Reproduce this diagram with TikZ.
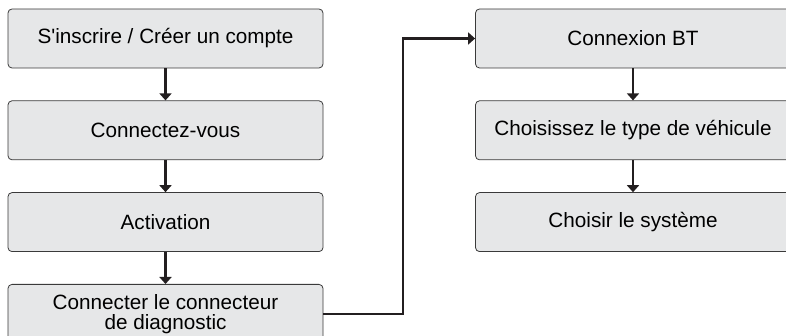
\documentclass[tikz,border=0pt]{standalone}
\usepackage{fontspec}
\setmainfont{Liberation Sans}
\usetikzlibrary{positioning,arrows.meta}

\definecolor{boxfill}{HTML}{E6E7E8}
\definecolor{boxline}{HTML}{3A3A3A}
\definecolor{linkcol}{HTML}{231F20}

\tikzset{
  stepbox/.style={rectangle, rounded corners=4pt, draw=boxline, line width=0.8pt,
    fill=boxfill, minimum width=315pt, minimum height=59pt, inner sep=0pt,
    align=center, font=\fontsize{20.7}{20.5}\selectfont},
  link/.style={draw=linkcol, line width=2.6pt,
    -{Triangle[width=12pt,length=7pt]}}
}

\begin{document}
\begin{tikzpicture}[x=1pt, y=-1pt, node distance=32pt]
  \useasboundingbox (0,0) rectangle (786,336);
  \clip (0,0) rectangle (786,336);

  % colonne gauche
  \node[stepbox] (inscrire) at (165.5,38.5) {S\textquotesingle inscrire / Créer un compte};
  \node[stepbox, below=of inscrire] (connectez) {Connectez-vous};
  \node[stepbox, below=of connectez] (activation) {Activation};
  \node[stepbox, below=of activation] (diagnostic) {Connecter le connecteur\\de diagnostic};

  % colonne droite
  \node[stepbox] (bt) at (633,38.5) {Connexion BT};
  \node[stepbox, below=of bt] (vehicule) {Choisissez le type de véhicule};
  \node[stepbox, below=of vehicule] (systeme) {Choisir le système};

  \draw[link] (inscrire) -- (connectez);
  \draw[link] (connectez) -- (activation);
  \draw[link] (activation) -- (diagnostic);
  \draw[link] (bt) -- (vehicule);
  \draw[link] (vehicule) -- (systeme);

  \draw[link] (diagnostic.east) -- ++(79.7pt,0) |- (bt.west);
\end{tikzpicture}
\end{document}
